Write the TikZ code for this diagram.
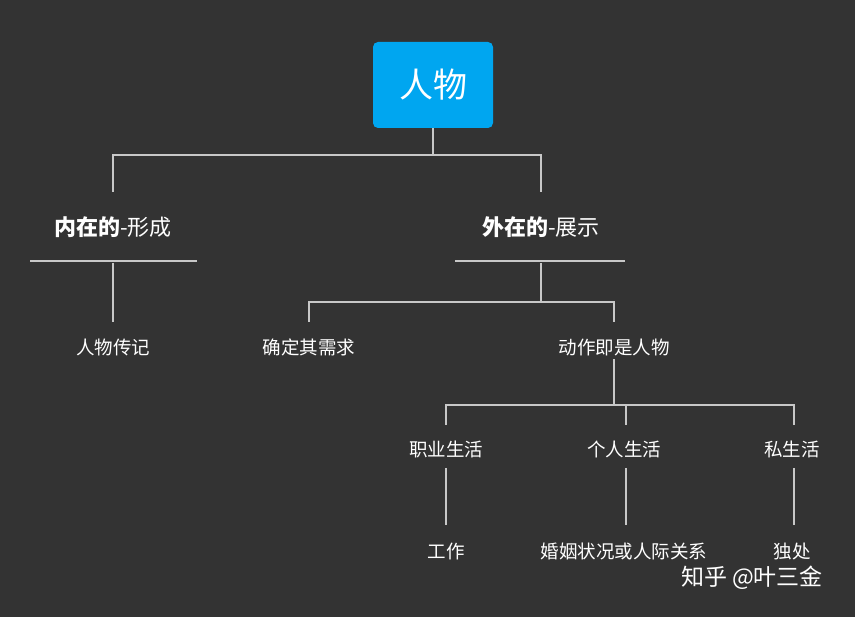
\documentclass[tikz,border=0pt]{standalone}
\usepackage{fontspec}
\setmainfont{Noto Sans CJK SC}
\usetikzlibrary{positioning}
\definecolor{bgdark}{HTML}{333333}
\definecolor{rootblue}{HTML}{00A6F0}
\definecolor{wire}{HTML}{C8C8C8}
\tikzset{
    root/.style={fill=rootblue, rounded corners=5pt, minimum width=120pt, minimum height=86pt, text=white, font=\fontsize{34}{36}\selectfont},
    head/.style={text=white, font=\fontsize{22}{24}\selectfont},
    leaf/.style={text=white, font=\fontsize{18.5}{20}\selectfont},
    thick wire/.style={draw=wire, line width=2.2pt},
    thin wire/.style={draw=wire, line width=1.4pt},
}
\begin{document}
\begin{tikzpicture}[x=1pt, y=-1pt]
	\fill[bgdark] (0,0) rectangle (855,617);
	\useasboundingbox (0,0) rectangle (855,617);
	\node[root] (person) at (433,85) {人物};
	\node[head] (inner) at (113,227) {\textbf{内在的}-形成};
	\node[head] (outer) at (541,227) {\textbf{外在的}-展示};
	\coordinate (innerL) at (30,261);
	\coordinate (innerR) at (197,261);
	\coordinate (outerL) at (455,261);
	\coordinate (outerR) at (625,261);
	\draw[thick wire] (innerL) -- (innerR);
	\draw[thick wire] (outerL) -- (outerR);
	\coordinate (topbar) at (433,155);
	\draw[thick wire] (person.south) -- (topbar);
	\draw[thick wire] (inner.north |- 0,192) |- (topbar) -| (outer.north |- 0,192);
	% inner branch
	\node[leaf] (bio) at (113,347) {人物传记};
	\draw[thin wire] (113,263) -- (bio.north |- 0,322);
	% outer branch
	\node[leaf] (need) at (309,347) {确定其需求};
	\node[leaf] (act) at (614,347) {动作即是人物};
	\coordinate (outbar) at (541,302);
	\draw[thin wire] (541,263) -- (outbar);
	\draw[thin wire] (need.north |- 0,322) |- (outbar) -| (act.north |- 0,322);
	% action branch
	\node[leaf] (work) at (446,449) {职业生活};
	\node[leaf] (life) at (624,449) {个人生活};
	\node[leaf] (priv) at (792,449) {私生活};
	\coordinate (actbar) at (614,405);
	\draw[thick wire] (act.south) -- (actbar);
	\draw[thin wire] (446,425) |- (actbar) -| (794,425);
	\draw[thin wire] (626,405) -- (626,425);
	\node[leaf] (job) at (446,551) {工作};
	\node[leaf] (tie) at (624,551) {婚姻状况或人际关系};
	\node[leaf] (alone) at (792,551) {独处};
	\draw[thin wire] (446,468) -- (446,525);
	\draw[thin wire] (626,468) -- (626,525);
	\draw[thin wire] (794,468) -- (794,525);
	\node[text=white, font=\fontsize{23}{25}\selectfont] (mark) at (752,578) {知乎 @叶三金};
\end{tikzpicture}
\end{document}
